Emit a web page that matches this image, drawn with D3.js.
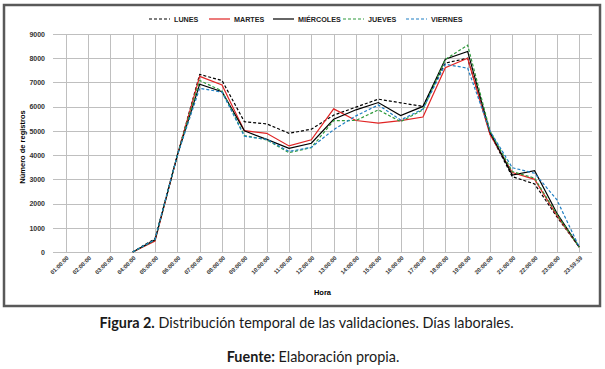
<!DOCTYPE html>
<html>
<head>
<meta charset="utf-8">
<script src="https://cdn.jsdelivr.net/npm/d3@7"></script>
<style>
  body { margin: 0; background: #fff; }
  svg { display: block; }
</style>
</head>
<body>
<script>
// datos
const horas = ["01:00:00", "02:00:00", "03:00:00", "04:00:00", "05:00:00", "06:00:00", "07:00:00", "08:00:00",
  "09:00:00", "10:00:00", "11:00:00", "12:00:00", "13:00:00", "14:00:00", "15:00:00", "16:00:00",
  "17:00:00", "18:00:00", "19:00:00", "20:00:00", "21:00:00", "22:00:00", "23:00:00", "23:59:59"]
const lunes = [null, null, null, 0, 550, 4000, 7330, 7080, 5380, 5290, 4900, 5070, 5650, 5980, 6310, 6160, 6010, 7800, 8000, 4900, 3110, 2810, 1450, 200]
const martes = [null, null, null, 0, 450, 4000, 7250, 6900, 5010, 4900, 4380, 4630, 5910, 5430, 5320, 5420, 5570, 7610, 8000, 4850, 3280, 3000, 1500, 200]
const miercoles = [null, null, null, 0, 500, 4000, 6930, 6620, 5000, 4650, 4280, 4490, 5480, 5870, 6170, 5630, 6010, 7960, 8280, 4950, 3180, 3360, 1600, 200]
const jueves = [null, null, null, 0, 500, 4000, 7080, 6650, 4810, 4630, 4100, 4310, 5420, 5430, 5870, 5380, 5870, 7950, 8540, 5000, 3320, 3050, 1550, 200]
const viernes = [null, null, null, 0, 520, 4000, 6760, 6600, 4780, 4650, 4150, 4320, 5050, 5620, 6070, 5450, 5900, 7750, 7590, 5000, 3480, 3250, 2150, 200]
const yTicks = [0, 1000, 2000, 3000, 4000, 5000, 6000, 7000, 8000, 9000]

const series = [
  { name: "LUNES", values: lunes, color: "#000000", dash: "3,2" },
  { name: "MARTES", values: martes, color: "#e02424", dash: null },
  { name: "MIÉRCOLES", values: miercoles, color: "#000000", dash: null },
  { name: "JUEVES", values: jueves, color: "#2e9a3c", dash: "3,2" },
  { name: "VIERNES", values: viernes, color: "#1f7fc4", dash: "3,2" }
]

const width = 605
const height = 369
const plot = { left: 53, right: 592, top: 34, bottom: 252 }
const chartFont = "'Liberation Sans', Arial, sans-serif"
const captionFont = "Lato, 'Open Sans', sans-serif"

const svg = d3.select("body")
  .append("svg")
  .attr("width", width)
  .attr("height", height)

// marco
svg.append("rect")
  .attr("x", 4)
  .attr("y", 5)
  .attr("width", 596)
  .attr("height", 301)
  .attr("fill", "none")
  .attr("stroke", "#595959")
  .attr("stroke-width", 2.5)

const x = d3.scalePoint()
  .domain(horas)
  .range([plot.left, plot.right])
  .padding(0.57)

const y = d3.scaleLinear()
  .domain([0, 9000])
  .range([plot.bottom, plot.top])

// rejilla
svg.append("g")
  .selectAll("line")
  .data(yTicks)
  .enter().append("line")
  .attr("x1", plot.left)
  .attr("x2", plot.right)
  .attr("y1", d => Math.round(y(d)) + 0.5)
  .attr("y2", d => Math.round(y(d)) + 0.5)
  .attr("stroke", "#bfbfbf")
  .attr("stroke-width", 1)

svg.append("g")
  .selectAll("line")
  .data(horas)
  .enter().append("line")
  .attr("x1", d => Math.round(x(d)) + 0.5)
  .attr("x2", d => Math.round(x(d)) + 0.5)
  .attr("y1", plot.top)
  .attr("y2", plot.bottom)
  .attr("stroke", "#bfbfbf")
  .attr("stroke-width", 1)

// eje y
const yAxis = svg.append("g")
  .attr("transform", `translate(${plot.left - 8},0)`)
  .call(d3.axisLeft(y).tickValues(yTicks).tickSize(0).tickPadding(0).tickFormat(d3.format("d")))
yAxis.select(".domain").remove()
yAxis.selectAll("text")
  .attr("font-family", chartFont)
  .attr("font-size", 7)
  .attr("font-weight", "bold")
  .attr("fill", "#333")

// eje x
svg.append("g")
  .selectAll("text")
  .data(horas)
  .enter().append("text")
  .attr("transform", d => `translate(${x(d) + 2},${plot.bottom + 5}) rotate(-45)`)
  .attr("text-anchor", "end")
  .attr("dy", "0.35em")
  .attr("font-family", chartFont)
  .attr("font-size", 5.8)
  .attr("font-weight", "bold")
  .attr("fill", "#333")
  .text(d => d)

svg.append("text")
  .attr("x", (plot.left + plot.right) / 2)
  .attr("y", 295)
  .attr("text-anchor", "middle")
  .attr("font-family", chartFont)
  .attr("font-size", 7.5)
  .attr("font-weight", "bold")
  .text("Hora")

svg.append("text")
  .attr("transform", `translate(25,${(plot.top + plot.bottom) / 2 + 4}) rotate(-90)`)
  .attr("text-anchor", "middle")
  .attr("font-family", chartFont)
  .attr("font-size", 7.5)
  .attr("font-weight", "bold")
  .text("Número de registros")

// lineas
const line = d3.line()
  .defined(d => d.v != null)
  .x(d => x(d.h))
  .y(d => y(d.v))

svg.append("g")
  .selectAll("path")
  .data(series)
  .enter().append("path")
  .attr("d", s => line(s.values.map((v, i) => ({ h: horas[i], v: v }))))
  .attr("fill", "none")
  .attr("stroke", s => s.color)
  .attr("stroke-width", 1.2)
  .attr("stroke-dasharray", s => s.dash)

// leyenda
const legendX = [149, 209, 273, 343, 406]
const legend = svg.append("g")
  .selectAll("g")
  .data(series)
  .enter().append("g")
  .attr("transform", (d, i) => `translate(${legendX[i]},19)`)

legend.append("line")
  .attr("x1", 0)
  .attr("x2", 21)
  .attr("stroke", d => d.color)
  .attr("stroke-width", 1.2)
  .attr("stroke-dasharray", d => d.dash)

legend.append("text")
  .attr("x", 25)
  .attr("y", 2.6)
  .attr("font-family", chartFont)
  .attr("font-size", 7.2)
  .attr("font-weight", "bold")
  .attr("fill", "#222")
  .text(d => d.name)

// pie de figura
const cap = svg.append("text")
  .attr("x", width / 2 + 4)
  .attr("y", 328)
  .attr("text-anchor", "middle")
  .attr("font-family", captionFont)
  .attr("font-size", 14.4)
  .attr("fill", "#1a1a1a")
cap.append("tspan").attr("font-weight", "bold").text("Figura 2.")
cap.append("tspan").text(" Distribución temporal de las validaciones. Días laborales.")

const src = svg.append("text")
  .attr("x", 313)
  .attr("y", 362)
  .attr("text-anchor", "middle")
  .attr("font-family", captionFont)
  .attr("font-size", 14.4)
  .attr("fill", "#1a1a1a")
src.append("tspan").attr("font-weight", "bold").text("Fuente:")
src.append("tspan").text(" Elaboración propia.")
</script>
</body>
</html>
